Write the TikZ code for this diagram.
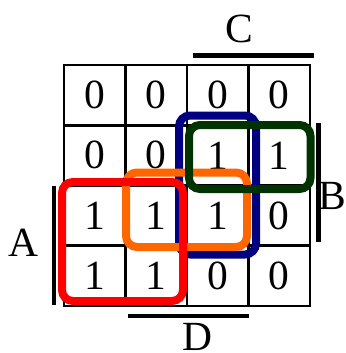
\documentclass[tikz,border=0pt]{standalone}
\usepackage{fontspec}
\setmainfont{Liberation Serif}
\definecolor{kmapnavy}{HTML}{000080}
\definecolor{kmapgreen}{HTML}{003300}
\definecolor{kmaporange}{HTML}{FF6600}
\begin{document}
\begin{tikzpicture}[x=1pt,y=-1pt,
  entry/.style={inner sep=0pt,font=\fontsize{41.5}{48}\selectfont},
  varbar/.style={line width=4.5pt},
  implicant/.style={line width=8pt,rounded corners=11pt}]
\useasboundingbox (0,0) rectangle (345,353);
% grid
\draw[line width=2.8pt] (64,65) rectangle (310,306);
\draw[line width=2.8pt] (125.5,65)--(125.5,306);
\draw[line width=2.8pt] (187,65)--(187,306);
\draw[line width=2.8pt] (248.5,65)--(248.5,306);
\draw[line width=2.8pt] (64,125.2)--(310,125.2);
\draw[line width=2.8pt] (64,185.5)--(310,185.5);
\draw[line width=2.8pt] (64,245.7)--(310,245.7);
% entries
\node[entry] (r1c1) at (94.8,95) {0};
\node[entry] (r1c2) at (156.3,95) {0};
\node[entry] (r1c3) at (217.8,95) {0};
\node[entry] (r1c4) at (279.3,95) {0};
\node[entry] (r2c1) at (94.8,155.4) {0};
\node[entry] (r2c2) at (156.3,155.4) {0};
\node[entry] (r2c3) at (217.8,155.4) {1};
\node[entry] (r2c4) at (279.3,155.4) {1};
\node[entry] (r3c1) at (94.8,215.6) {1};
\node[entry] (r3c2) at (156.3,215.6) {1};
\node[entry] (r3c3) at (217.8,215.6) {1};
\node[entry] (r3c4) at (279.3,215.6) {0};
\node[entry] (r4c1) at (94.8,275.9) {1};
\node[entry] (r4c2) at (156.3,275.9) {1};
\node[entry] (r4c3) at (217.8,275.9) {0};
\node[entry] (r4c4) at (279.3,275.9) {0};
% variable bars and labels
\draw[varbar] (193,55.5)--(314,55.5);
\node[entry] (labC) at (239,29) {C};
\draw[varbar] (318.3,123)--(318.3,242);
\node[entry] (labB) at (332.5,196) {B};
\draw[varbar] (53.8,186)--(53.8,305);
\node[entry] (labA) at (23.5,243) {A};
\draw[varbar] (128,316)--(249,316);
\node[entry] (labD) at (197,337) {D};
% groups
\draw[implicant,draw=kmapnavy] (179,115.5) rectangle (256,254.5);
\draw[implicant,draw=kmaporange] (126,172.5) rectangle (247,247);
\draw[implicant,draw=kmapgreen] (189,125) rectangle (310.5,189);
\draw[implicant,draw=red] (62,182) rectangle (183,301);
\end{tikzpicture}
\end{document}
